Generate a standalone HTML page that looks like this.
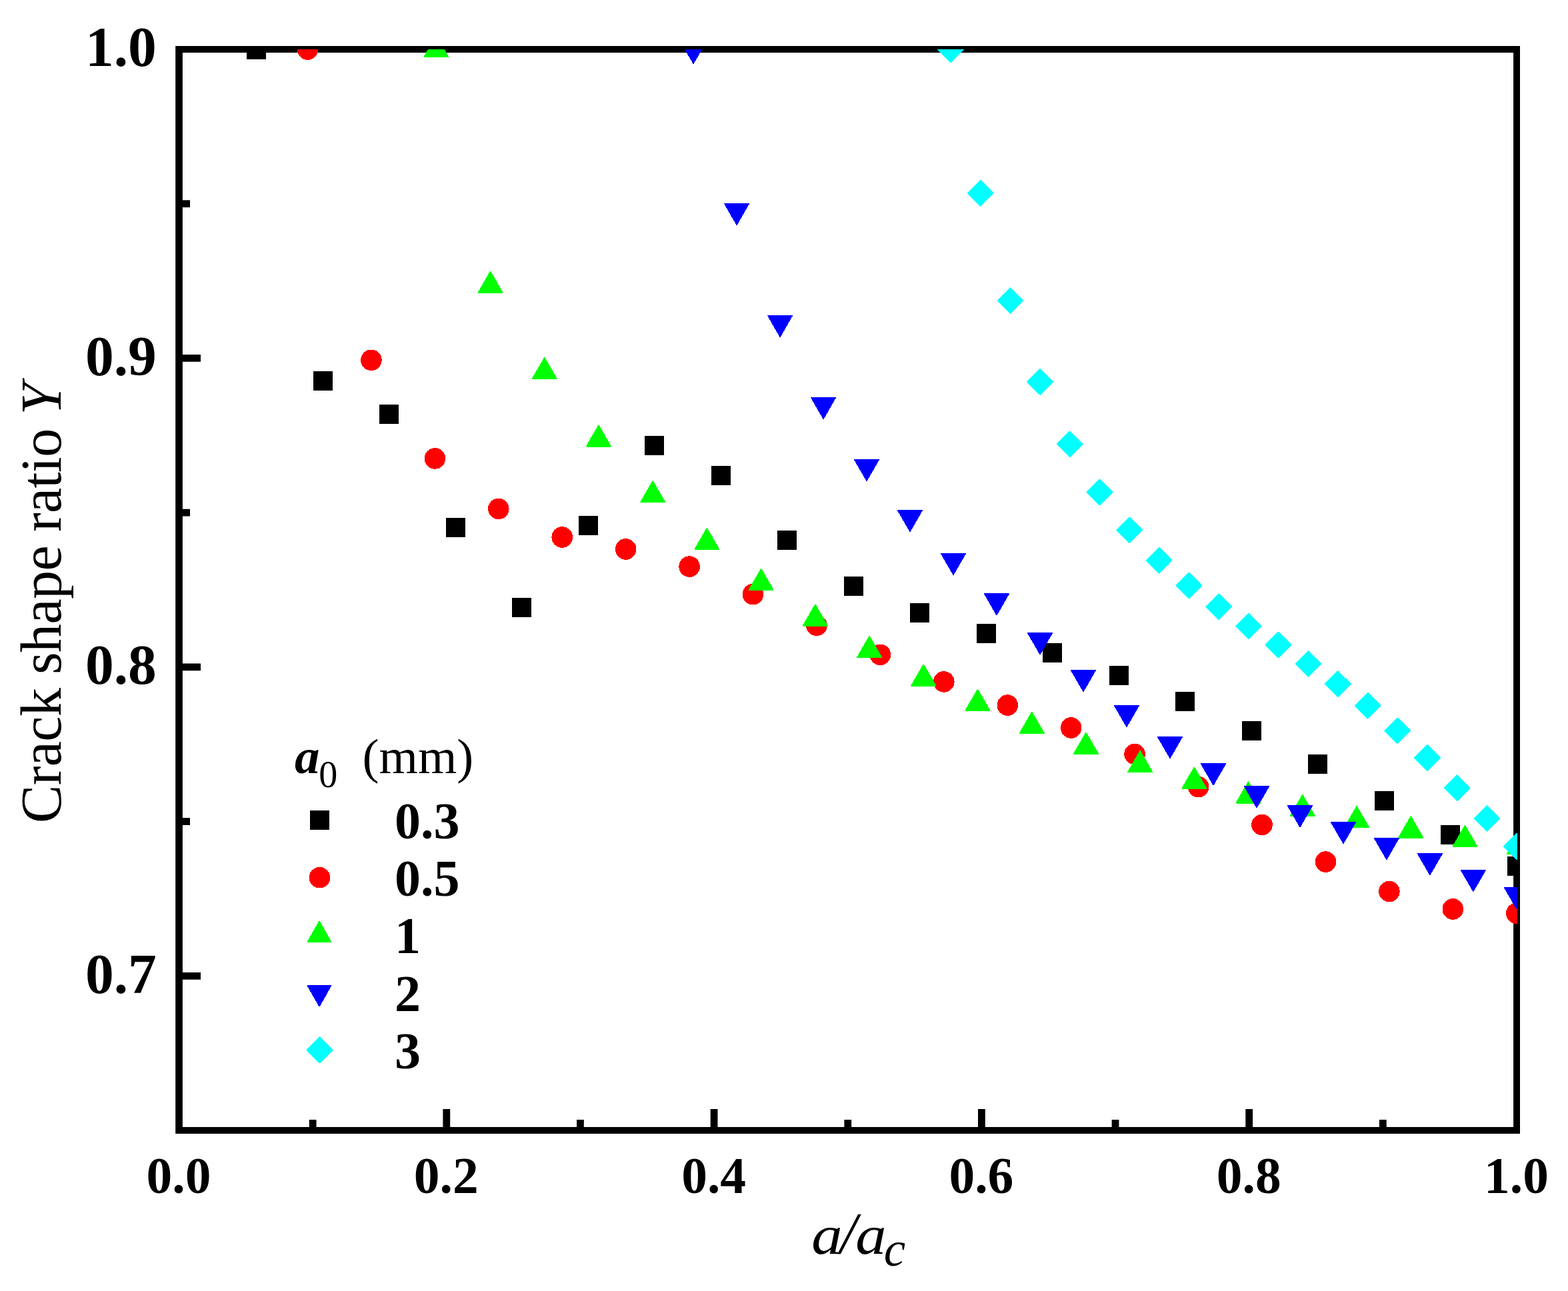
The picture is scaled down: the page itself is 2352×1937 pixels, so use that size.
<!DOCTYPE html>
<html lang="en"><head><meta charset="utf-8"><title>Crack shape ratio Y vs a/ac</title>
<style>
html,body{margin:0;padding:0;background:#fff;}
body{width:2352px;height:1937px;overflow:hidden;}
svg{display:block;}
text{font-family:"Liberation Serif","DejaVu Serif",serif;fill:#000;}
.b{font-weight:bold;}
.i{font-style:italic;}
</style></head><body>
<svg width="2352" height="1937" viewBox="0 0 2352 1937">
<rect x="0" y="0" width="2352" height="1937" fill="#ffffff"/>
<defs><clipPath id="plotclip"><rect x="268.5" y="74.0" width="2007.5" height="1622.0"/></clipPath></defs>
<g stroke="#000" stroke-width="10.8" fill="none">
<line x1="469.15" y1="1696.0" x2="469.15" y2="1680.0"/>
<line x1="669.80" y1="1696.0" x2="669.80" y2="1664.0"/>
<line x1="870.45" y1="1696.0" x2="870.45" y2="1680.0"/>
<line x1="1071.10" y1="1696.0" x2="1071.10" y2="1664.0"/>
<line x1="1271.75" y1="1696.0" x2="1271.75" y2="1680.0"/>
<line x1="1472.40" y1="1696.0" x2="1472.40" y2="1664.0"/>
<line x1="1673.05" y1="1696.0" x2="1673.05" y2="1680.0"/>
<line x1="1873.70" y1="1696.0" x2="1873.70" y2="1664.0"/>
<line x1="2074.35" y1="1696.0" x2="2074.35" y2="1680.0"/>
<line x1="268.5" y1="305.71" x2="285.0" y2="305.71"/>
<line x1="268.5" y1="537.43" x2="301.0" y2="537.43"/>
<line x1="268.5" y1="769.14" x2="285.0" y2="769.14"/>
<line x1="268.5" y1="1000.86" x2="301.0" y2="1000.86"/>
<line x1="268.5" y1="1232.57" x2="285.0" y2="1232.57"/>
<line x1="268.5" y1="1464.29" x2="301.0" y2="1464.29"/>
</g>
<path fill="#000" fill-rule="evenodd" d="M263.2 69H2280V1701H263.2Z M273.9 79H2270.1V1691H273.9Z"/>
<g clip-path="url(#plotclip)" shape-rendering="crispEdges">
<rect x="370.2" y="59.5" width="29" height="29" fill="#000000"/>
<rect x="469.8" y="556.9" width="29" height="29" fill="#000000"/>
<rect x="569.3" y="606.9" width="29" height="29" fill="#000000"/>
<rect x="668.8" y="776.9" width="29" height="29" fill="#000000"/>
<rect x="768.3" y="896.9" width="29" height="29" fill="#000000"/>
<rect x="867.8" y="774.0" width="29" height="29" fill="#000000"/>
<rect x="967.3" y="653.9" width="29" height="29" fill="#000000"/>
<rect x="1066.8" y="698.8" width="29" height="29" fill="#000000"/>
<rect x="1166.3" y="795.9" width="29" height="29" fill="#000000"/>
<rect x="1265.8" y="864.9" width="29" height="29" fill="#000000"/>
<rect x="1365.3" y="904.9" width="29" height="29" fill="#000000"/>
<rect x="1464.8" y="935.8" width="29" height="29" fill="#000000"/>
<rect x="1564.3" y="965.0" width="29" height="29" fill="#000000"/>
<rect x="1663.8" y="998.9" width="29" height="29" fill="#000000"/>
<rect x="1763.3" y="1037.9" width="29" height="29" fill="#000000"/>
<rect x="1862.9" y="1081.9" width="29" height="29" fill="#000000"/>
<rect x="1962.4" y="1132.0" width="29" height="29" fill="#000000"/>
<rect x="2061.9" y="1187.0" width="29" height="29" fill="#000000"/>
<rect x="2161.4" y="1238.0" width="29" height="29" fill="#000000"/>
<rect x="2260.9" y="1285.0" width="29" height="29" fill="#000000"/>
<circle cx="461.5" cy="74.0" r="15.8" fill="#ff0000"/>
<circle cx="556.9" cy="540.3" r="15.8" fill="#ff0000"/>
<circle cx="652.4" cy="687.9" r="15.8" fill="#ff0000"/>
<circle cx="747.8" cy="763.4" r="15.8" fill="#ff0000"/>
<circle cx="843.2" cy="806.0" r="15.8" fill="#ff0000"/>
<circle cx="938.7" cy="824.0" r="15.8" fill="#ff0000"/>
<circle cx="1034.1" cy="850.1" r="15.8" fill="#ff0000"/>
<circle cx="1129.5" cy="891.6" r="15.8" fill="#ff0000"/>
<circle cx="1225.0" cy="938.4" r="15.8" fill="#ff0000"/>
<circle cx="1320.4" cy="982.3" r="15.8" fill="#ff0000"/>
<circle cx="1415.8" cy="1022.9" r="15.8" fill="#ff0000"/>
<circle cx="1511.3" cy="1058.1" r="15.8" fill="#ff0000"/>
<circle cx="1606.7" cy="1092.0" r="15.8" fill="#ff0000"/>
<circle cx="1702.1" cy="1131.4" r="15.8" fill="#ff0000"/>
<circle cx="1797.6" cy="1180.6" r="15.8" fill="#ff0000"/>
<circle cx="1893.0" cy="1237.5" r="15.8" fill="#ff0000"/>
<circle cx="1988.5" cy="1293.1" r="15.8" fill="#ff0000"/>
<circle cx="2083.9" cy="1337.5" r="15.8" fill="#ff0000"/>
<circle cx="2179.3" cy="1364.0" r="15.8" fill="#ff0000"/>
<circle cx="2274.8" cy="1370.3" r="15.8" fill="#ff0000"/>
<polygon points="654.4,54.3 672.2,85.3 636.5,85.3" fill="#00ff00" stroke="#00ff00" stroke-width="2" stroke-linejoin="round"/>
<polygon points="735.6,407.9 753.5,439.0 717.7,439.0" fill="#00ff00" stroke="#00ff00" stroke-width="2" stroke-linejoin="round"/>
<polygon points="816.8,537.2 834.7,568.2 798.9,568.2" fill="#00ff00" stroke="#00ff00" stroke-width="2" stroke-linejoin="round"/>
<polygon points="898.0,638.6 915.9,669.6 880.1,669.6" fill="#00ff00" stroke="#00ff00" stroke-width="2" stroke-linejoin="round"/>
<polygon points="979.2,722.3 997.1,753.4 961.3,753.4" fill="#00ff00" stroke="#00ff00" stroke-width="2" stroke-linejoin="round"/>
<polygon points="1060.4,793.2 1078.3,824.2 1042.5,824.2" fill="#00ff00" stroke="#00ff00" stroke-width="2" stroke-linejoin="round"/>
<polygon points="1141.7,854.1 1159.6,885.1 1123.8,885.1" fill="#00ff00" stroke="#00ff00" stroke-width="2" stroke-linejoin="round"/>
<polygon points="1222.9,907.6 1240.8,938.6 1205.0,938.6" fill="#00ff00" stroke="#00ff00" stroke-width="2" stroke-linejoin="round"/>
<polygon points="1304.1,955.1 1322.0,986.1 1286.2,986.1" fill="#00ff00" stroke="#00ff00" stroke-width="2" stroke-linejoin="round"/>
<polygon points="1385.3,997.6 1403.2,1028.6 1367.4,1028.6" fill="#00ff00" stroke="#00ff00" stroke-width="2" stroke-linejoin="round"/>
<polygon points="1466.5,1035.0 1484.4,1066.0 1448.6,1066.0" fill="#00ff00" stroke="#00ff00" stroke-width="2" stroke-linejoin="round"/>
<polygon points="1547.8,1069.0 1565.7,1100.0 1529.9,1100.0" fill="#00ff00" stroke="#00ff00" stroke-width="2" stroke-linejoin="round"/>
<polygon points="1629.0,1099.9 1646.9,1130.9 1611.1,1130.9" fill="#00ff00" stroke="#00ff00" stroke-width="2" stroke-linejoin="round"/>
<polygon points="1710.2,1127.1 1728.1,1158.1 1692.3,1158.1" fill="#00ff00" stroke="#00ff00" stroke-width="2" stroke-linejoin="round"/>
<polygon points="1791.4,1151.8 1809.3,1182.8 1773.5,1182.8" fill="#00ff00" stroke="#00ff00" stroke-width="2" stroke-linejoin="round"/>
<polygon points="1872.6,1173.5 1890.5,1204.5 1854.7,1204.5" fill="#00ff00" stroke="#00ff00" stroke-width="2" stroke-linejoin="round"/>
<polygon points="1953.8,1193.1 1971.8,1224.1 1935.9,1224.1" fill="#00ff00" stroke="#00ff00" stroke-width="2" stroke-linejoin="round"/>
<polygon points="2035.1,1210.3 2053.0,1241.3 2017.2,1241.3" fill="#00ff00" stroke="#00ff00" stroke-width="2" stroke-linejoin="round"/>
<polygon points="2116.3,1225.5 2134.2,1256.5 2098.4,1256.5" fill="#00ff00" stroke="#00ff00" stroke-width="2" stroke-linejoin="round"/>
<polygon points="2197.5,1239.1 2215.4,1270.1 2179.6,1270.1" fill="#00ff00" stroke="#00ff00" stroke-width="2" stroke-linejoin="round"/>
<polygon points="2278.7,1250.3 2296.6,1281.3 2260.8,1281.3" fill="#00ff00" stroke="#00ff00" stroke-width="2" stroke-linejoin="round"/>
<polygon points="1040.1,94.7 1058.0,63.6 1022.2,63.6" fill="#0000ff" stroke="#0000ff" stroke-width="2" stroke-linejoin="round"/>
<polygon points="1105.1,336.7 1123.0,305.6 1087.2,305.6" fill="#0000ff" stroke="#0000ff" stroke-width="2" stroke-linejoin="round"/>
<polygon points="1170.1,504.7 1188.0,473.6 1152.2,473.6" fill="#0000ff" stroke="#0000ff" stroke-width="2" stroke-linejoin="round"/>
<polygon points="1235.1,627.7 1253.0,596.6 1217.2,596.6" fill="#0000ff" stroke="#0000ff" stroke-width="2" stroke-linejoin="round"/>
<polygon points="1300.0,720.7 1318.0,689.6 1282.1,689.6" fill="#0000ff" stroke="#0000ff" stroke-width="2" stroke-linejoin="round"/>
<polygon points="1365.0,796.8 1382.9,765.8 1347.1,765.8" fill="#0000ff" stroke="#0000ff" stroke-width="2" stroke-linejoin="round"/>
<polygon points="1430.0,861.7 1447.9,830.6 1412.1,830.6" fill="#0000ff" stroke="#0000ff" stroke-width="2" stroke-linejoin="round"/>
<polygon points="1495.0,922.1 1512.9,891.0 1477.1,891.0" fill="#0000ff" stroke="#0000ff" stroke-width="2" stroke-linejoin="round"/>
<polygon points="1560.0,980.9 1577.9,949.9 1542.1,949.9" fill="#0000ff" stroke="#0000ff" stroke-width="2" stroke-linejoin="round"/>
<polygon points="1625.0,1036.8 1642.9,1005.8 1607.1,1005.8" fill="#0000ff" stroke="#0000ff" stroke-width="2" stroke-linejoin="round"/>
<polygon points="1690.0,1089.8 1707.9,1058.8 1672.1,1058.8" fill="#0000ff" stroke="#0000ff" stroke-width="2" stroke-linejoin="round"/>
<polygon points="1755.0,1136.8 1772.9,1105.8 1737.1,1105.8" fill="#0000ff" stroke="#0000ff" stroke-width="2" stroke-linejoin="round"/>
<polygon points="1820.0,1177.2 1837.9,1146.2 1802.1,1146.2" fill="#0000ff" stroke="#0000ff" stroke-width="2" stroke-linejoin="round"/>
<polygon points="1885.0,1211.0 1902.9,1180.0 1867.1,1180.0" fill="#0000ff" stroke="#0000ff" stroke-width="2" stroke-linejoin="round"/>
<polygon points="1950.0,1240.2 1967.9,1209.2 1932.1,1209.2" fill="#0000ff" stroke="#0000ff" stroke-width="2" stroke-linejoin="round"/>
<polygon points="2015.0,1264.8 2032.9,1233.8 1997.1,1233.8" fill="#0000ff" stroke="#0000ff" stroke-width="2" stroke-linejoin="round"/>
<polygon points="2079.9,1288.8 2097.8,1257.8 2062.0,1257.8" fill="#0000ff" stroke="#0000ff" stroke-width="2" stroke-linejoin="round"/>
<polygon points="2144.9,1312.0 2162.8,1281.0 2127.0,1281.0" fill="#0000ff" stroke="#0000ff" stroke-width="2" stroke-linejoin="round"/>
<polygon points="2209.9,1336.7 2227.8,1305.7 2192.0,1305.7" fill="#0000ff" stroke="#0000ff" stroke-width="2" stroke-linejoin="round"/>
<polygon points="2274.9,1362.7 2292.8,1331.7 2257.0,1331.7" fill="#0000ff" stroke="#0000ff" stroke-width="2" stroke-linejoin="round"/>
<polygon points="1426.1,55.2 1444.9,74.0 1426.1,92.8 1407.3,74.0" fill="#00ffff" stroke="#00ffff" stroke-width="2" stroke-linejoin="round"/>
<polygon points="1470.8,271.1 1489.6,289.9 1470.8,308.7 1452.0,289.9" fill="#00ffff" stroke="#00ffff" stroke-width="2" stroke-linejoin="round"/>
<polygon points="1515.4,432.3 1534.2,451.1 1515.4,469.9 1496.6,451.1" fill="#00ffff" stroke="#00ffff" stroke-width="2" stroke-linejoin="round"/>
<polygon points="1560.1,554.1 1578.9,572.9 1560.1,591.7 1541.3,572.9" fill="#00ffff" stroke="#00ffff" stroke-width="2" stroke-linejoin="round"/>
<polygon points="1604.8,647.6 1623.6,666.4 1604.8,685.2 1586.0,666.4" fill="#00ffff" stroke="#00ffff" stroke-width="2" stroke-linejoin="round"/>
<polygon points="1649.5,719.7 1668.3,738.5 1649.5,757.3 1630.7,738.5" fill="#00ffff" stroke="#00ffff" stroke-width="2" stroke-linejoin="round"/>
<polygon points="1694.2,776.6 1713.0,795.4 1694.2,814.2 1675.4,795.4" fill="#00ffff" stroke="#00ffff" stroke-width="2" stroke-linejoin="round"/>
<polygon points="1738.8,822.1 1757.6,840.9 1738.8,859.7 1720.0,840.9" fill="#00ffff" stroke="#00ffff" stroke-width="2" stroke-linejoin="round"/>
<polygon points="1783.5,859.7 1802.3,878.5 1783.5,897.3 1764.7,878.5" fill="#00ffff" stroke="#00ffff" stroke-width="2" stroke-linejoin="round"/>
<polygon points="1828.2,891.6 1847.0,910.4 1828.2,929.2 1809.4,910.4" fill="#00ffff" stroke="#00ffff" stroke-width="2" stroke-linejoin="round"/>
<polygon points="1872.9,920.8 1891.7,939.6 1872.9,958.4 1854.1,939.6" fill="#00ffff" stroke="#00ffff" stroke-width="2" stroke-linejoin="round"/>
<polygon points="1917.6,948.7 1936.4,967.5 1917.6,986.3 1898.8,967.5" fill="#00ffff" stroke="#00ffff" stroke-width="2" stroke-linejoin="round"/>
<polygon points="1962.3,977.2 1981.1,996.0 1962.3,1014.8 1943.5,996.0" fill="#00ffff" stroke="#00ffff" stroke-width="2" stroke-linejoin="round"/>
<polygon points="2006.9,1007.3 2025.7,1026.1 2006.9,1044.9 1988.1,1026.1" fill="#00ffff" stroke="#00ffff" stroke-width="2" stroke-linejoin="round"/>
<polygon points="2051.6,1040.0 2070.4,1058.8 2051.6,1077.6 2032.8,1058.8" fill="#00ffff" stroke="#00ffff" stroke-width="2" stroke-linejoin="round"/>
<polygon points="2096.3,1077.6 2115.1,1096.4 2096.3,1115.2 2077.5,1096.4" fill="#00ffff" stroke="#00ffff" stroke-width="2" stroke-linejoin="round"/>
<polygon points="2141.0,1118.1 2159.8,1136.9 2141.0,1155.7 2122.2,1136.9" fill="#00ffff" stroke="#00ffff" stroke-width="2" stroke-linejoin="round"/>
<polygon points="2185.7,1163.3 2204.5,1182.1 2185.7,1200.9 2166.9,1182.1" fill="#00ffff" stroke="#00ffff" stroke-width="2" stroke-linejoin="round"/>
<polygon points="2230.3,1209.2 2249.2,1228.0 2230.3,1246.8 2211.5,1228.0" fill="#00ffff" stroke="#00ffff" stroke-width="2" stroke-linejoin="round"/>
<polygon points="2275.0,1251.2 2293.8,1270.0 2275.0,1288.8 2256.2,1270.0" fill="#00ffff" stroke="#00ffff" stroke-width="2" stroke-linejoin="round"/>
</g>
<text class="b" x="234.8" y="99.3" font-size="85.5" text-anchor="end">1.0</text>
<text class="b" x="234.8" y="562.7" font-size="85.5" text-anchor="end">0.9</text>
<text class="b" x="234.8" y="1026.2" font-size="85.5" text-anchor="end">0.8</text>
<text class="b" x="234.8" y="1489.6" font-size="85.5" text-anchor="end">0.7</text>
<text class="b" x="268.0" y="1790" font-size="77.5" text-anchor="middle">0.0</text>
<text class="b" x="669.3" y="1790" font-size="77.5" text-anchor="middle">0.2</text>
<text class="b" x="1070.6" y="1790" font-size="77.5" text-anchor="middle">0.4</text>
<text class="b" x="1471.9" y="1790" font-size="77.5" text-anchor="middle">0.6</text>
<text class="b" x="1873.2" y="1790" font-size="77.5" text-anchor="middle">0.8</text>
<text class="b" x="2274.5" y="1790" font-size="77.5" text-anchor="middle">1.0</text>
<text class="i" font-size="82"><tspan x="1217.2" y="1881.2" textLength="46.3" lengthAdjust="spacingAndGlyphs">a</tspan><tspan x="1260.2" y="1879.6" font-size="89">/</tspan><tspan x="1283.2" y="1881.2" textLength="46.3" lengthAdjust="spacingAndGlyphs">a</tspan><tspan x="1325.7" y="1899.3" font-size="73">c</tspan></text>
<text transform="translate(90.6,1235) rotate(-90)" font-size="86" letter-spacing="-0.6">Crack shape ratio <tspan class="i">Y</tspan></text>
<text font-size="75"><tspan class="b i" x="442" y="1159.8">a</tspan><tspan font-size="56" x="478.3" y="1181">0</tspan><tspan x="543.6" y="1159.8">(mm)</tspan></text>
<g shape-rendering="crispEdges"><rect x="465.0" y="1216.0" width="29" height="29" fill="#000000"/></g>
<text class="b" x="592" y="1258.0" font-size="78">0.3</text>
<g shape-rendering="crispEdges"><circle cx="479.5" cy="1316.7" r="15.8" fill="#ff0000"/></g>
<text class="b" x="592" y="1344.2" font-size="78">0.5</text>
<g shape-rendering="crispEdges"><polygon points="479.0,1382.8 496.2,1413.0 461.8,1413.0" fill="#00ff00" stroke="#00ff00" stroke-width="2" stroke-linejoin="round"/></g>
<text class="b" x="592" y="1430.4" font-size="78">1</text>
<g shape-rendering="crispEdges"><polygon points="479.0,1509.2 496.2,1479.0 461.8,1479.0" fill="#0000ff" stroke="#0000ff" stroke-width="2" stroke-linejoin="round"/></g>
<text class="b" x="592" y="1516.6" font-size="78">2</text>
<g shape-rendering="crispEdges"><polygon points="479.5,1556.5 498.3,1575.3 479.5,1594.1 460.7,1575.3" fill="#00ffff" stroke="#00ffff" stroke-width="2" stroke-linejoin="round"/></g>
<text class="b" x="592" y="1602.8" font-size="78">3</text>
</svg>
</body></html>
